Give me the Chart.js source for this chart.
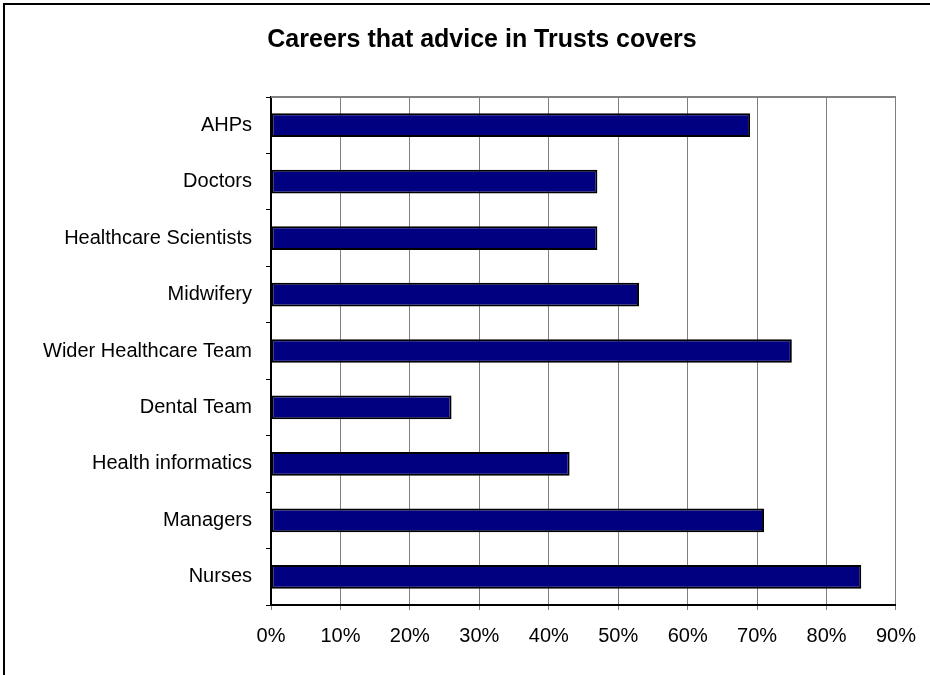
<!DOCTYPE html>
<html>
<head>
<meta charset="utf-8">
<script src="https://cdn.jsdelivr.net/npm/chart.js@4.4.0/dist/chart.umd.min.js"></script>
<style>
  body { margin: 0; background: #fff; overflow: hidden; }
  #wrap { position: relative; width: 930px; height: 675px; }
  #frame { position: absolute; left: 3px; top: 3px; width: 2000px; height: 2000px;
           border-left: 2px solid #000; border-top: 2px solid #000; }
  canvas { position: absolute; left: 0; top: 0; }
</style>
</head>
<body>
<div id="wrap">
  <div id="frame"></div>
  <canvas id="careersChart" width="930" height="675"></canvas>
</div>
<script>
// bar chart data
const categories = ['AHPs', 'Doctors', 'Healthcare Scientists', 'Midwifery', 'Wider Healthcare Team',
                    'Dental Team', 'Health informatics', 'Managers', 'Nurses'];
const percentages = [69, 47, 47, 53, 75, 26, 43, 71, 85];
const axisMax = 90;
const axisStep = 10;
const chartTitle = 'Careers that advice in Trusts covers';

const fontFamily = 'Liberation Sans, Arial, sans-serif';

// gray line on top of plot area + title (centred a bit right of canvas middle)
const frameBits = {
    id: 'frameBits',
    beforeDatasetsDraw(chart) {
        const a = chart.chartArea;
        const c = chart.ctx;
        c.save();
        c.strokeStyle = '#808080';
        c.lineWidth = 2;
        c.beginPath();
        c.moveTo(a.left, a.top);
        c.lineTo(a.right, a.top);
        c.stroke();
        c.restore();
    },
    afterDraw(chart) {
        const c = chart.ctx;
        c.save();
        c.fillStyle = '#000';
        c.font = 'bold 25px ' + fontFamily;
        c.textAlign = 'center';
        c.textBaseline = 'alphabetic';
        c.fillText(chartTitle, 482, 47);
        c.restore();
    }
};

const ctx = document.getElementById('careersChart').getContext('2d');

const myChart = new Chart(ctx, {
    type: 'bar',
    data: {
        labels: categories,
        datasets: [{
            label: 'Careers',
            data: percentages,
            backgroundColor: '#000080',
            borderColor: '#000000',
            borderWidth: 2,
            borderSkipped: false,
            categoryPercentage: 1,
            barPercentage: 0.42
        }]
    },
    options: {
        indexAxis: 'y',
        responsive: false,
        animation: false,
        layout: {
            padding: { left: 10, right: 31, top: 97, bottom: 0 }
        },
        scales: {
            x: {
                min: 0,
                max: axisMax,
                ticks: {
                    stepSize: axisStep,
                    padding: 14,
                    color: '#000',
                    font: { family: fontFamily, size: 20 },
                    callback: function(value) {
                        return value + '%';
                    }
                },
                grid: {
                    color: '#808080',
                    lineWidth: 1,
                    tickLength: 5
                },
                border: { color: '#000', width: 2 },
                afterFit: function(scale) { scale.height = 70; }
            },
            y: {
                ticks: {
                    padding: 14,
                    color: '#000',
                    font: { family: fontFamily, size: 20 }
                },
                grid: {
                    offset: true,
                    drawOnChartArea: false,
                    color: '#000',
                    tickLength: 5
                },
                border: { color: '#000', width: 2 },
                afterFit: function(scale) { scale.width = 261; }
            }
        },
        plugins: {
            legend: { display: false },
            tooltip: { enabled: false },
            title: { display: false }
        }
    },
    plugins: [frameBits]
});
</script>
</body>
</html>
